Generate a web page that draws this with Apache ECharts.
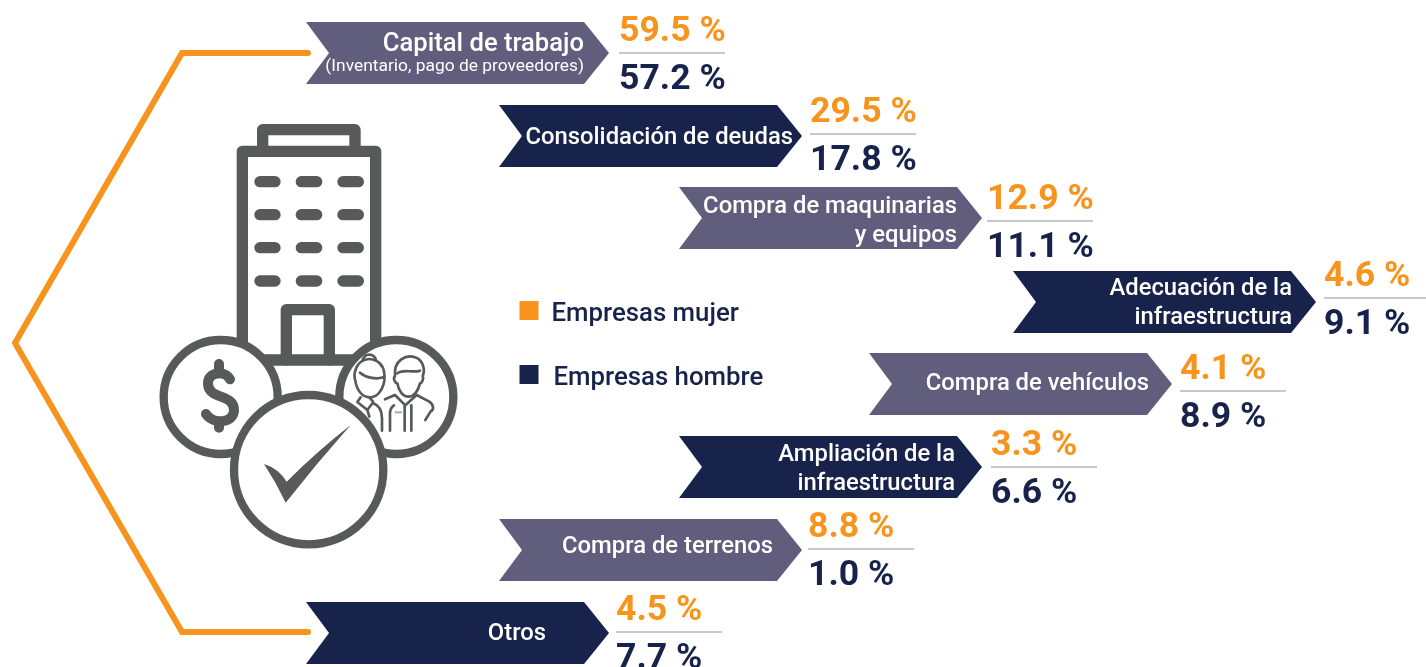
<!DOCTYPE html>
<html>
<head>
<meta charset="utf-8">
<script src="https://cdn.jsdelivr.net/npm/echarts@6/dist/echarts.min.js"></script>
<style>
  html, body { margin: 0; padding: 0; background: #fff; overflow: hidden; }
  #chart { width: 1426px; height: 667px; }
</style>
</head>
<body>
<div id="chart"></div>
<script>
// datos
const categories = [
  "Capital de trabajo",
  "Consolidación de deudas",
  "Compra de maquinarias\ny equipos",
  "Adecuación de la\ninfraestructura",
  "Compra de vehículos",
  "Ampliación de la\ninfraestructura",
  "Compra de terrenos",
  "Otros",
];
const categoryNotes = ["(Inventario, pago de proveedores)", "", "", "", "", "", "", ""];
const mujerValues = [59.5, 29.5, 12.9, 4.6, 4.1, 3.3, 8.8, 4.5];
const hombreValues = [57.2, 17.8, 11.1, 9.1, 8.9, 6.6, 1.0, 7.7];

// layout, en pixeles de la imagen
const bannerLeft = [306, 499, 679, 1013, 869, 679, 499, 306];
const bannerTop = [22, 105, 187, 271, 353, 436, 519, 602];
const labelRight = [584, 793, 957, 1292, 1149, 955, 773, 546];
const labelY = [45, 138, 221.5, 303.5, 384.5, 469.5, 547, 634];
const valueLeft = [619, 810, 987, 1324, 1180, 991, 808, 616];
const ruleY = [53, 134, 221, 298, 391, 467, 549, 632];
const bracketX = [308, 182, 15, 182, 308];
const bracketY = [53, 53, 343, 632, 632];

const ORANGE = "#F7941D";
const NAVY = "#18234B";
const PURPLE = "#615E7D";
const GREY = "#58595B";
const FONT = "Roboto";

const W = 303, H = 62, NOTCH = 23, SHOULDER = 25, RULE = 106;

const renderBanner = (params, api) => {
  const i = params.dataIndex;
  const x = api.value(0), y = api.value(1);
  const pts = [
    [x, y], [x + W - SHOULDER, y], [x + W, y + H / 2],
    [x + W - SHOULDER, y + H], [x, y + H], [x + NOTCH, y + H / 2],
  ].map((p) => api.coord(p));
  const mid = api.coord([labelRight[i], labelY[i]]);
  const children = [
    { type: "polygon", shape: { points: pts }, style: { fill: i % 2 ? NAVY : PURPLE } },
  ];
  if (categoryNotes[i]) {
    children.push({
      type: "text",
      style: { x: mid[0], y: mid[1], text: categories[i], fill: "#fff", align: "right", verticalAlign: "middle", font: `500 25.6px ${FONT}` },
    });
    children.push({
      type: "text",
      style: { x: mid[0], y: mid[1] + 22, text: categoryNotes[i], fill: "#fff", align: "right", verticalAlign: "middle", font: `400 17.4px ${FONT}` },
    });
  } else {
    children.push({
      type: "text",
      style: { x: mid[0], y: mid[1], text: categories[i], fill: "#fff", align: "right", verticalAlign: "middle", lineHeight: 28.5, font: `500 23.8px ${FONT}` },
    });
  }
  // linea entre los dos valores
  const a = api.coord([valueLeft[i], ruleY[i]]);
  const b = api.coord([valueLeft[i] + RULE, ruleY[i]]);
  children.push({
    type: "line",
    shape: { x1: a[0], y1: a[1], x2: b[0], y2: b[1] },
    style: { stroke: "#B5B5BC", lineWidth: 1.5 },
  });
  return { type: "group", children };
};

const renderValue = (color, offset) => (params, api) => {
  const p = api.coord([api.value(0), api.value(1) + offset]);
  return {
    type: "text",
    style: {
      x: p[0], y: p[1],
      text: api.value(2).toFixed(1) + " %",
      fill: color,
      align: "left",
      verticalAlign: "middle",
      font: `700 35.6px ${FONT}`,
    },
  };
};

// icono del edificio, en coordenadas de 3x
const strokeStyle = { stroke: GREY, fill: null, lineWidth: 34, lineJoin: "round", lineCap: "round" };
const peopleStyle = { stroke: GREY, fill: null, lineWidth: 8, lineJoin: "round", lineCap: "round" };
const windowChildren = [];
[215, 314, 413, 513].forEach((wy) => {
  [[330, 375], [454, 500], [579, 625]].forEach(([x1, x2]) => {
    windowChildren.push({ type: "line", shape: { x1, y1: wy, x2, y2: wy }, style: strokeStyle });
  });
});
const circle = (cx, cy, r) => ({
  type: "circle",
  shape: { cx, cy, r },
  style: { fill: "#fff", stroke: GREY, lineWidth: 25 },
});
const pathEl = (pathData, style) => ({ type: "path", shape: { pathData }, style });

const renderIcon = () => ({
  type: "group",
  x: 150,
  y: 110,
  scaleX: 1 / 3,
  scaleY: 1 / 3,
  children: [
    { type: "rect", shape: { x: 277, y: 124, width: 400, height: 626 }, style: { fill: "#fff", stroke: GREY, lineWidth: 34, lineJoin: "round" } },
    pathEl("M338 124 V59 H615 V124", strokeStyle),
    ...windowChildren,
    pathEl("M409 750 V599 H538 V750", strokeStyle),
    circle(212, 861, 171),
    circle(739, 861, 171),
    circle(476, 1079, 224),
    // signo de pesos
    pathEl("M240 808 C225 780 172 785 174 822 C176 870 252 850 252 900 C252 940 190 945 168 912", { stroke: GREY, fill: null, lineWidth: 30, lineCap: "round" }),
    pathEl("M207 762 V790 M207 935 V953", { stroke: GREY, fill: null, lineWidth: 30, lineCap: "round" }),
    // chulo
    pathEl("M342 1062 Q385 1075 410 1115 Q500 1025 602 945 Q500 1060 407 1178 Q380 1120 342 1062Z", { fill: GREY }),
    // mujer y hombre
    {
      type: "group",
      x: 570,
      y: 690,
      children: [
        pathEl("M68 62 A20 18 0 1 1 108 62 C125 70 136 90 133 122 C128 150 112 172 90 172 C66 172 50 150 46 122 C38 100 50 72 68 62Z", { fill: "#fff", stroke: GREY, lineWidth: 8, lineJoin: "round" }),
        pathEl("M60 98 C80 115 110 118 130 112 M68 62 C80 56 96 56 108 62", peopleStyle),
        pathEl("M62 172 L52 186 L82 210 L100 186 L88 172 M82 210 L88 230", peopleStyle),
        pathEl("M100 190 C116 196 126 210 126 235 V272 M150 272 V220 C150 208 156 200 162 196", peopleStyle),
        pathEl("M165 108 C160 60 200 42 225 52 C250 60 256 90 248 108 C252 115 246 130 240 130 C232 160 218 170 205 170 C190 170 176 155 172 130 C165 130 158 115 165 108Z", { fill: "#fff", stroke: GREY, lineWidth: 8, lineJoin: "round" }),
        pathEl("M172 100 C190 85 215 100 240 92", peopleStyle),
        pathEl("M135 178 L165 165 L196 196 L230 165 L268 185 C282 195 282 210 272 214 L256 240 M194 196 V272 M214 196 V272", peopleStyle),
        pathEl("M164 217 H186", { stroke: "#A7A9AC", fill: null, lineWidth: 6 }),
      ],
    },
  ],
});

const myChart = echarts.init(document.getElementById("chart"));

// el texto de la leyenda va un poco mas abajo que el cuadro
const legendText = (paddingLeft) => ({
  rich: {
    a: { color: NAVY, fontFamily: FONT, fontWeight: 500, fontSize: 25.8, padding: [8, 0, 0, paddingLeft] },
  },
});

const options = {
  animation: false,
  backgroundColor: "#fff",
  grid: { left: 0, right: 0, top: 0, bottom: 0 },
  xAxis: { type: "value", min: 0, max: 1426, show: false },
  yAxis: { type: "value", min: 0, max: 667, inverse: true, show: false },
  legend: [
    {
      data: ["Empresas mujer"], left: 519.5, top: 301, padding: 0,
      icon: "rect", itemWidth: 19, itemHeight: 19, selectedMode: false,
      formatter: "{a|{name}}",
      textStyle: legendText(8),
    },
    {
      data: ["Empresas hombre"], left: 519.5, top: 365, padding: 0,
      icon: "rect", itemWidth: 19, itemHeight: 19, selectedMode: false,
      formatter: "{a|{name}}",
      textStyle: legendText(10),
    },
  ],
  series: [
    {
      type: "custom",
      silent: true,
      clip: false,
      data: [[0, 0]],
      renderItem: renderIcon,
    },
    {
      type: "line",
      data: bracketX.map((x, i) => [x, bracketY[i]]),
      showSymbol: false,
      silent: true,
      clip: false,
      lineStyle: { color: ORANGE, width: 6, cap: "round", join: "miter" },
    },
    {
      type: "custom",
      silent: true,
      clip: false,
      data: categories.map((c, i) => [bannerLeft[i], bannerTop[i]]),
      renderItem: renderBanner,
    },
    {
      name: "Empresas mujer",
      type: "custom",
      silent: true,
      itemStyle: { color: ORANGE },
      data: mujerValues.map((v, i) => [valueLeft[i], ruleY[i], v]),
      renderItem: renderValue(ORANGE, -21),
    },
    {
      name: "Empresas hombre",
      type: "custom",
      silent: true,
      itemStyle: { color: NAVY },
      data: hombreValues.map((v, i) => [valueLeft[i], ruleY[i], v]),
      renderItem: renderValue(NAVY, 27),
    },
  ],
};
myChart.setOption(options);
</script>
</body>
</html>
